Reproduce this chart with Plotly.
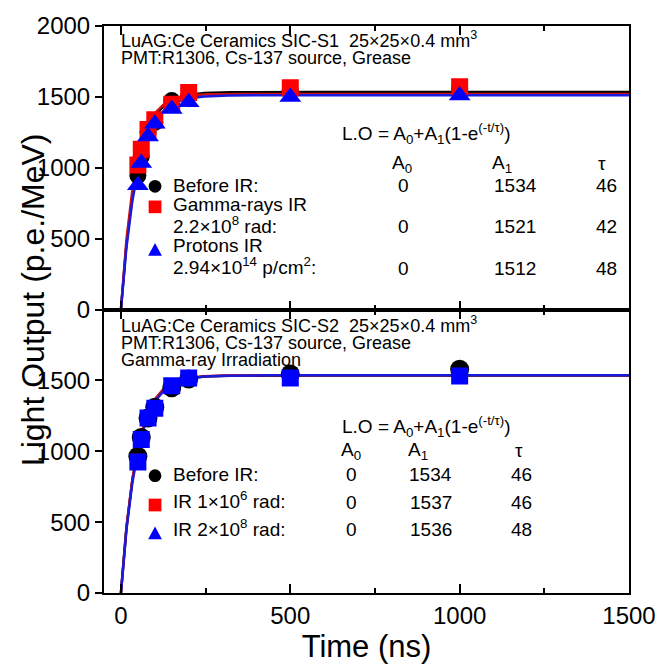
import numpy as np
import plotly.graph_objects as go

# ---------------- data ----------------
time_ns = [50, 60, 80, 100, 150, 200, 500, 1000]

# Upper panel (SIC-S1)
s1_before = [945, 1080, 1250, 1320, 1475, 1510, 1545, 1560]
s1_gamma = [1020, 1130, 1270, 1338, 1448, 1531, 1565, 1572]
s1_proton = [876, 1034, 1220, 1310, 1414, 1462, 1500, 1510]

# Lower panel (SIC-S2)
s2_before = [965, 1097, 1234, 1310, 1448, 1510, 1545, 1579]
s2_ir1e6 = [930, 1085, 1234, 1305, 1460, 1515, 1520, 1530]
s2_ir2e8 = [924, 1083, 1234, 1303, 1462, 1517, 1517, 1531]

# Fit parameters  L.O = A0 + A1(1-exp(-t/tau))
s1_A0 = [0, 0, 0]
s1_A1 = [1534, 1521, 1512]
s1_tau = [46, 42, 48]
s2_A0 = [0, 0, 0]
s2_A1 = [1534, 1537, 1536]
s2_tau = [46, 46, 48]

x_ticks = [0, 500, 1000, 1500]
y_ticks_upper = [0, 500, 1000, 1500, 2000]
y_ticks_lower = [0, 500, 1000, 1500]

# ---------------- figure ----------------
FONT = "Liberation Sans, Arial, sans-serif"
BLACK = "#000000"
RED = "#ff0000"
BLUE = "#0000ff"
LINE_RED = "#d01010"
LINE_BLUE = "#1a1adc"

fig = go.Figure()
t_fit = np.linspace(0, 1500, 601)

def fit(a0, a1, tau):
    return a0 + a1 * (1 - np.exp(-t_fit / tau))

# Upper fits
for a0, a1, tau, col in zip(s1_A0, s1_A1, s1_tau, [BLACK, LINE_RED, LINE_BLUE]):
    fig.add_trace(go.Scatter(x=t_fit, y=fit(a0, a1, tau), mode="lines",
                             line=dict(color=col, width=2.5), xaxis="x2", yaxis="y2",
                             showlegend=False, hoverinfo="skip"))
fig.add_trace(go.Scatter(x=time_ns, y=s1_before, mode="markers", xaxis="x2", yaxis="y2",
                         marker=dict(symbol="circle", size=17, color=BLACK), showlegend=False))
fig.add_trace(go.Scatter(x=time_ns, y=s1_gamma, mode="markers", xaxis="x2", yaxis="y2",
                         marker=dict(symbol="square", size=17, color=RED), showlegend=False))
fig.add_trace(go.Scatter(x=time_ns, y=s1_proton, mode="markers", xaxis="x2", yaxis="y2",
                         marker=dict(symbol="triangle-up", size=19, color=BLUE), showlegend=False))

# Lower fits
for a0, a1, tau, col in zip(s2_A0, s2_A1, s2_tau, [BLACK, LINE_RED, LINE_BLUE]):
    fig.add_trace(go.Scatter(x=t_fit, y=fit(a0, a1, tau), mode="lines",
                             line=dict(color=col, width=2.5), xaxis="x", yaxis="y",
                             showlegend=False, hoverinfo="skip"))
fig.add_trace(go.Scatter(x=time_ns, y=s2_before, mode="markers", xaxis="x", yaxis="y",
                         marker=dict(symbol="circle", size=19, color=BLACK), showlegend=False))
fig.add_trace(go.Scatter(x=time_ns, y=s2_ir1e6, mode="markers", xaxis="x", yaxis="y",
                         marker=dict(symbol="square", size=15, color=RED), showlegend=False))
fig.add_trace(go.Scatter(x=time_ns, y=s2_ir2e8, mode="markers", xaxis="x", yaxis="y",
                         marker=dict(symbol="square", size=17, color=BLUE), showlegend=False))

# ---------------- axes ----------------
L, R, T, B = 104, 29, 17, 71
W = H = 668
PW, PH = W - L - R, H - T - B

xcommon = dict(range=[-50, 1500], tickvals=x_ticks, ticks="inside", ticklen=9, tickwidth=2,
               tickcolor=BLACK, showline=True, linewidth=2, linecolor=BLACK, mirror="ticks",
               showgrid=False, zeroline=False,
               minor=dict(ticks="inside", ticklen=5, tickwidth=1.5, dtick=250, tick0=0,
                          tickcolor=BLACK, showgrid=False),
               tickfont=dict(family=FONT, size=24, color=BLACK))
ycommon = dict(range=[0, 2000], ticks="outside", ticklen=7, tickwidth=2, tickcolor=BLACK,
               showline=True, linewidth=2, linecolor=BLACK, mirror=True,
               showgrid=False, zeroline=False,
               tickfont=dict(family=FONT, size=24, color=BLACK))
yright = dict(range=[0, 2000], tickvals=[500, 1000, 1500], ticks="inside", ticklen=9,
              tickwidth=2, tickcolor=BLACK, showticklabels=False, showline=False,
              showgrid=False, zeroline=False, side="right")

fig.update_layout(
    width=W, height=H,
    margin=dict(l=L, r=R, t=T, b=B, pad=0),
    paper_bgcolor="white", plot_bgcolor="white",
    showlegend=False,
    xaxis=dict(domain=[0, 1], anchor="y", **xcommon,
               title=dict(text="Time (ns)", font=dict(family=FONT, size=31, color=BLACK),
                          standoff=6)),
    xaxis2=dict(domain=[0, 1], anchor="y2", matches="x", showticklabels=False,
                **{k: v for k, v in xcommon.items() if k != "tickfont"}),
    yaxis=dict(domain=[0, 0.5], anchor="x", tickvals=y_ticks_lower, **ycommon),
    yaxis2=dict(domain=[0.5, 1], anchor="x2", tickvals=y_ticks_upper, **ycommon),
    yaxis3=dict(overlaying="y", anchor="x", **yright),
    yaxis4=dict(overlaying="y2", anchor="x2", **yright),
)

# ---------------- text ----------------
def px(x):
    return (x - L) / PW

def py(y):
    return (H - B - y) / PH

ann = []
shapes = []

def txt(text, x, y, size=19, xanchor="left", color=BLACK):
    ann.append(dict(text=text, x=px(x), y=py(y), xref="paper", yref="paper",
                    xanchor=xanchor, yanchor="middle", showarrow=False,
                    font=dict(family=FONT, size=size, color=color)))

def key(kind, x, y, color):
    r = 6.5
    if kind == "circle":
        shapes.append(dict(type="circle", xref="paper", yref="paper",
                           x0=px(x - r), x1=px(x + r), y0=py(y + r), y1=py(y - r),
                           fillcolor=color, line=dict(width=0)))
    elif kind == "square":
        shapes.append(dict(type="rect", xref="paper", yref="paper",
                           x0=px(x - r), x1=px(x + r), y0=py(y + r), y1=py(y - r),
                           fillcolor=color, line=dict(width=0)))
    else:
        path = "M {:.5f},{:.5f} L {:.5f},{:.5f} L {:.5f},{:.5f} Z".format(
            px(x - 7), py(y + 6), px(x + 7), py(y + 6), px(x), py(y - 7))
        shapes.append(dict(type="path", xref="paper", yref="paper", path=path,
                           fillcolor=color, line=dict(width=0)))

TS = 18  # title size
FS = 19  # table size

# Upper panel
txt("LuAG:Ce Ceramics SIC-S1  25×25×0.4 mm<sup>3</sup>", 119, 31, TS)
txt("PMT:R1306, Cs-137 source, Grease", 119, 50, TS)
txt("L.O = A<sub>0</sub>+A<sub>1</sub>(1-e<sup>(-t/τ)</sup>)", 345, 127, FS)
txt("A<sub>0</sub>", 408, 158, FS, "center")
txt("A<sub>1</sub>", 510, 158, FS, "center")
txt("τ", 611, 158, FS, "center")
upper_rows_y = [180, 222, 265]
for yy, a0, a1, tau in zip(upper_rows_y, s1_A0, s1_A1, s1_tau):
    txt(str(a0), 409, yy, FS, "center")
    txt(str(a1), 523, yy, FS, "center")
    txt(str(tau), 616, yy, FS, "center")
txt("Before IR:", 172, 180, FS)
txt("Gamma-rays IR", 172, 200, FS)
txt("2.2×10<sup>8</sup> rad:", 172, 221, FS)
txt("Protons IR", 172, 242, FS)
txt("2.94×10<sup>14</sup> p/cm<sup>2</sup>:", 172, 263, FS)
key("circle", 156, 181, BLACK)
key("square", 156, 202, RED)
key("triangle", 156, 246, BLUE)

# Lower panel
txt("LuAG:Ce Ceramics SIC-S2  25×25×0.4 mm<sup>3</sup>", 119, 322, TS)
txt("PMT:R1306, Cs-137 source, Grease", 119, 341, TS)
txt("Gamma-ray Irradiation", 119, 359, TS)
txt("L.O = A<sub>0</sub>+A<sub>1</sub>(1-e<sup>(-t/τ)</sup>)", 345, 427, FS)
txt("A<sub>0</sub>", 356, 452, FS, "center")
txt("A<sub>1</sub>", 424, 452, FS, "center")
txt("τ", 527, 451, FS, "center")
lower_rows_y = [476, 504, 532]
for yy, a0, a1, tau in zip(lower_rows_y, s2_A0, s2_A1, s2_tau):
    txt(str(a0), 356, yy, FS, "center")
    txt(str(a1), 437, yy, FS, "center")
    txt(str(tau), 529, yy, FS, "center")
txt("Before IR:", 172, 476, FS)
txt("IR 1×10<sup>6</sup> rad:", 172, 502, FS)
txt("IR 2×10<sup>8</sup> rad:", 172, 531, FS)
key("circle", 156, 477, BLACK)
key("square", 156, 507, RED)
key("triangle", 156, 536, BLUE)

# Y axis title (shared)
ann.append(dict(text="Light Output (p.e./MeV)", x=px(31), y=py(297), xref="paper", yref="paper",
                xanchor="center", yanchor="middle", showarrow=False, textangle=-90,
                font=dict(family=FONT, size=32, color=BLACK)))

fig.update_layout(annotations=ann, shapes=shapes)
fig.write_html("out.html")
